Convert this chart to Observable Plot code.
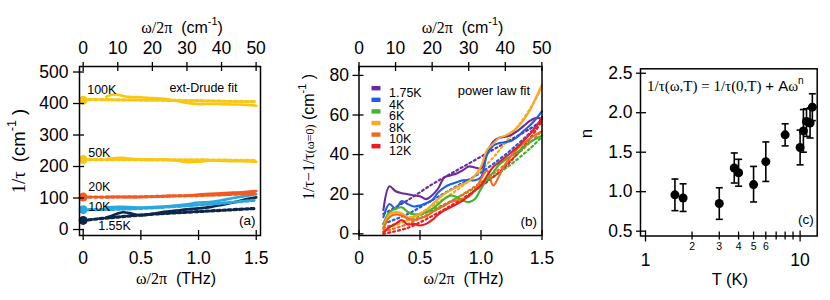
<!DOCTYPE html>
<html><head><meta charset="utf-8">
<script src="https://cdn.jsdelivr.net/npm/d3@7"></script>
<script src="https://cdn.jsdelivr.net/npm/@observablehq/plot@0.6"></script>
<style>
body{margin:0;background:#fff;}
#wrap{position:relative;width:830px;height:300px;overflow:hidden;background:#fff;}
#wrap svg{position:absolute;top:0;}
</style></head><body><div id="wrap"></div>
<script>
// ---------- shared ----------
const CM_PER_THZ = 33.356;
const cmTicks = [0, 10, 20, 30, 40, 50];
const thzTicks = [0, 0.5, 1.0, 1.5];

// ---------- panel (a): ext-Drude ----------
const aTemps = ["100K", "50K", "20K", "10K", "1.55K"];
const aColors = ["#f9c710", "#f9c710", "#f15a22", "#2ca8e0", "#0c2749"];
const aDotValues = [410, 222, 103, 63, 29];          // 1/tau at omega = 0
const aFreq = [0.2, 0.25, 0.3, 0.35, 0.4, 0.5, 0.6, 0.7, 0.8, 0.9, 1.0, 1.1, 1.2, 1.3, 1.4, 1.5];
const a100K = [422, 428, 428, 424, 421, 420, 417, 415, 409, 402, 398, 399, 398, 397, 396, 393];
const a50K  = [224, 226, 227, 228, 225, 222, 221, 222, 219, 214, 215, 219, 218, 217, 217, 215];
const a20K  = [103, 104, 104, 103, 103, 103, 104, 106, 107, 108, 111, 113, 115, 117, 119, 122];
const a10K  = [71, 71, 72, 72, 71, 70, 71, 73, 76, 80, 86, 87, 93, 100, 106, 112];
const a1p55K = [38, 44, 51, 55, 52, 45, 50, 56, 60, 64, 67, 71, 78, 86, 95, 102];
const aFitFreq = [0, 0.25, 0.5, 0.75, 1.0, 1.25, 1.5];
const aFit100K = [413, 412, 411, 410, 409, 407, 406];
const aFit50K  = [222, 222, 222, 221, 221, 220, 219];
const aFit20K  = [103, 103, 104, 106, 108, 111, 115];
const aFit10K  = [63, 64, 67, 72, 78, 85, 93];
const aFit1p55K = [29, 38, 46, 52, 57, 62, 67];
const aYTicks = [0, 100, 200, 300, 400, 500];

// ---------- panel (b): power law ----------
const bTemps = ["1.75K", "4K", "6K", "8K", "10K", "12K"];
const bColors = ["#6a2c9c", "#1e5ee6", "#3fb52a", "#f9a825", "#f26a1f", "#ec1c24"];
const bFreq = [0.2, 0.25, 0.3, 0.35, 0.4, 0.45, 0.5, 0.55, 0.6, 0.65, 0.7, 0.75, 0.8, 0.85, 0.9, 0.95, 1.0, 1.05, 1.1, 1.15, 1.2, 1.25, 1.3, 1.35, 1.4, 1.45, 1.5];
const b1p75K = [12, 24, 21.5, 20.5, 20, 19.3, 19, 17.5, 19.5, 23, 28.5, 29.5, 30.5, 32, 34, 33.5, 33, 41, 46.5, 48.5, 49, 50, 52, 54.5, 57, 58.5, 58];
const b4K  = [8.4, 15, 12.6, 16.5, 15, 13.8, 14.3, 15.5, 17, 21, 23.5, 25, 26, 27, 27.2, 27, 28.6, 40, 44.5, 45.8, 46.3, 47, 49, 52, 54.7, 58, 62];
const b6K  = [5, 11, 12.6, 13.4, 11, 9.8, 10, 11, 12.6, 15, 17.6, 19.3, 18.5, 16.8, 16, 17.6, 22.7, 27.7, 31, 35, 37.4, 39.5, 41.2, 44, 46.3, 48, 49.6];
const b8K  = [3.4, 9.8, 11, 10.4, 8.4, 8.7, 10, 12, 14.8, 17.6, 20.2, 21.9, 23.5, 25, 26.6, 29.4, 34, 42.4, 45.5, 48.5, 49.6, 51.3, 53.9, 57.6, 62.3, 68.7, 75.4];
const b10K = [2.5, 8.4, 9.8, 9.2, 7.6, 7, 8, 8.7, 11, 12.6, 14.3, 16, 16.8, 17.6, 18.9, 21.9, 27.7, 31.9, 24.4, 29.4, 35.3, 39.5, 42.9, 45.8, 48, 50.2, 51.8];
const b12K = [0.8, 3.4, 5, 7, 4.7, 5, 4.2, 5, 7, 9.8, 11.8, 13.4, 15, 16.8, 19.3, 21.9, 24.4, 29.4, 33.7, 36.2, 38.7, 41.2, 43.8, 47.1, 50.2, 53.9, 59];
const bFitFreq = [0.2, 0.4, 0.6, 0.8, 1.0, 1.2, 1.4, 1.5];
const bFit1p75K = [10, 17, 25, 32, 39, 46, 53, 57];
const bFit4K  = [5, 10, 17, 24, 31, 40, 51, 58];
const bFit6K  = [3, 7, 12, 18, 25, 33, 43, 49];
const bFit8K  = [2, 7, 14, 22, 32, 46, 63, 74];
const bFit10K = [1, 5, 11, 18, 26, 35, 46, 52];
const bFit12K = [0, 3, 9, 16, 24, 34, 48, 57];
const bYTicks = [0, 20, 40, 60, 80];

// ---------- panel (c): exponent n ----------
const cTemp = [1.55, 1.75, 3.0, 3.75, 4.0, 5.0, 6.0, 8.0, 10.0, 10.5, 11.0, 11.6, 12.0];
const cN    = [0.96, 0.92, 0.85, 1.30, 1.24, 1.09, 1.38, 1.72, 1.56, 1.77, 1.89, 1.87, 2.07];
const cLow  = [0.76, 0.75, 0.65, 1.11, 1.07, 0.87, 1.13, 1.58, 1.34, 1.50, 1.70, 1.68, 1.90];
const cHigh = [1.16, 1.10, 1.05, 1.49, 1.41, 1.32, 1.63, 1.86, 1.78, 2.04, 2.05, 2.06, 2.24];
const cYTicks = [0.5, 1.0, 1.5, 2.0, 2.5];
const cMajorTicks = [1, 10];
const cMinorTicks = [2, 3, 4, 5, 6, 7, 8, 9];

// ---------- helpers ----------
const SANS = "'Liberation Sans', Arial, sans-serif";
const SERIF = "'Liberation Serif', 'Times New Roman', serif";
const NS = "http://www.w3.org/2000/svg";
const H = 300;
const TICK_FS = 17.5;
const fmtTHz = d => d === 0 ? "0" : d.toFixed(1);
const cmAsTHz = cmTicks.map(c => c / CM_PER_THZ);
function rows(keys, xs, series) {
  return keys.flatMap((k, i) => xs.map((x, j) => ({x, y: series[i][j], k})));
}
const RICH = {
  "ω/2π (cm-1)": [{t:"ω/2π", f:SERIF}, {t:"  (cm", f:SANS}, {t:"-1", f:SANS, sup:true}, {t:")", f:SANS}],
  "ω/2π (THz)": [{t:"ω/2π", f:SERIF}, {t:"  (THz)", f:SANS}],
  "1/τ (cm-1)": [{t:"1/τ  ", f:SERIF}, {t:"(cm", f:SANS}, {t:"-1", f:SANS, sup:true}, {t:" )", f:SANS}],
  "1/τ−1/τ(ω=0) (cm-1)": [{t:"1/τ−1/τ", f:SERIF}, {t:"(ω=0)", f:SERIF, scale:0.75}, {t:" (cm", f:SANS}, {t:"-1", f:SANS, sup:true}, {t:" )", f:SANS}],
  "1/τ(ω,T) = 1/τ(0,T) + Aωn": [{t:"1/τ(ω,T) = 1/τ(0,T) ", f:SERIF}, {t:"+ A", f:SANS}, {t:"ω", f:SERIF}, {t:"n", f:SANS, sup:true}]
};
function enrich(svg) {
  svg.querySelectorAll("text").forEach(node => {
    const segs = RICH[node.textContent];
    if (!segs) return;
    const cs = getComputedStyle(node);
    const base = parseFloat(cs.fontSize) || 16;
    const anchor = cs.textAnchor;
    node.textContent = "";
    node.style.whiteSpace = "pre";
    let lift = 0;
    for (const s of segs) {
      const ts = document.createElementNS(NS, "tspan");
      ts.textContent = s.t;
      ts.setAttribute("font-family", s.f);
      ts.setAttribute("font-size", base * (s.sup ? 0.68 : (s.scale || 1)));
      const target = s.sup ? -0.5 * base : 0;
      if (target !== lift) { ts.setAttribute("dy", target - lift); lift = target; }
      node.append(ts);
    }
    // anchor the mixed-font text explicitly
    node.setAttribute("text-anchor", "start");
    node.style.textAnchor = "start";
    const w = node.getComputedTextLength();
    if (anchor === "middle") node.setAttribute("x", -w / 2);
    else if (anchor === "end") node.setAttribute("x", -w);
  });
}
function place(svg, left) {
  svg.style.left = left + "px";
  document.getElementById("wrap").append(svg);
  enrich(svg);
}
const baseStyle = {fontFamily: SANS, fontSize: "16px", color: "black", background: "none", overflow: "visible"};
const tk = {stroke: "black", strokeWidth: 1.3};

// ---------- panel (a) ----------
{
  const W = 275, mL = 79, mR = 15, mT = 66, mB = 65;
  const iW = W - mL - mR, iH = H - mT - mB;
  const solid = rows(aTemps, aFreq, [a100K, a50K, a20K, a10K, a1p55K]);
  const fits = rows(aTemps, aFitFreq, [aFit100K, aFit50K, aFit20K, aFit10K, aFit1p55K]);
  const dots = aTemps.map((k, i) => ({x: 0, y: aDotValues[i], k}));
  const labDx = [4, 5, 5, 5, 15], labDy = [-10, -7, -10, -3, 6];
  const svg = Plot.plot({
    width: W, height: H, marginLeft: mL, marginRight: mR, marginTop: mT, marginBottom: mB,
    x: {domain: [-0.032, 1.537], axis: null},
    y: {domain: [-19, 517.5], axis: null},
    color: {domain: aTemps, range: aColors},
    style: baseStyle,
    marks: [
      Plot.line(solid, {x: "x", y: "y", z: "k", stroke: "k", strokeWidth: 2.6, curve: "catmull-rom"}),
      Plot.line(fits, {x: "x", y: "y", z: "k", stroke: "k", strokeWidth: 3.2, strokeDasharray: "3 2.6", curve: "catmull-rom"}),
      Plot.dot(dots, {x: "x", y: "y", fill: "k", r: 4.5}),
      ...aTemps.map((k, i) => Plot.text([dots[i]], {x: "x", y: "y", text: "k", dx: labDx[i], dy: labDy[i], textAnchor: "start", fontSize: 12.5})),
      Plot.frame({stroke: "black", strokeWidth: 1.5}),
      Plot.axisX({anchor: "bottom", ticks: thzTicks, tickFormat: fmtTHz, tickSize: 5, tickPadding: 11, fontSize: TICK_FS, label: null, ...tk}),
      Plot.tickX(thzTicks, {x: d => d, insetTop: iH - 5, ...tk}),
      Plot.axisX({anchor: "top", ticks: cmAsTHz, tickFormat: d => Math.round(d * CM_PER_THZ), tickSize: 5, tickPadding: 8, fontSize: TICK_FS, label: null, ...tk}),
      Plot.tickX(cmAsTHz, {x: d => d, insetBottom: iH - 5, ...tk}),
      Plot.axisY({anchor: "left", ticks: aYTicks, tickSize: 6, tickPadding: 5, fontSize: TICK_FS, label: null, ...tk}),
      Plot.tickY(aYTicks, {y: d => d, insetRight: iW - 5, ...tk}),
      Plot.text(["ext-Drude fit"], {frameAnchor: "top-right", dx: -23, dy: 17, textAnchor: "end", fontSize: 12.5}),
      Plot.text(["(a)"], {frameAnchor: "bottom-right", dx: -5, dy: -11, textAnchor: "end", fontSize: 13.5}),
      Plot.text(["ω/2π (cm-1)"], {frameAnchor: "top", textAnchor: "middle", dx: 12, dy: -45, fontSize: 16}),
      Plot.text(["ω/2π (THz)"], {frameAnchor: "bottom", textAnchor: "middle", dx: 6, dy: 48, fontSize: 16}),
      Plot.text(["1/τ (cm-1)"], {frameAnchor: "left", textAnchor: "middle", dx: -60, dy: 0, rotate: -90, fontSize: 18.5})
    ]
  });
  place(svg, 0);
}

// ---------- panel (b) ----------
{
  const L = 275, W = 280, mL = 83.5, mR = 13.5, mT = 66, mB = 65;
  const iW = W - mL - mR, iH = H - mT - mB;
  const solid = rows(bTemps, bFreq, [b1p75K, b4K, b6K, b8K, b10K, b12K]);
  const fits = rows(bTemps, bFitFreq, [bFit1p75K, bFit4K, bFit6K, bFit8K, bFit10K, bFit12K]);
  const bar = {draw(ctx) { ctx.rect(-4.5, -2.2, 9, 4.4); }};
  const svg = Plot.plot({
    width: W, height: H, marginLeft: mL, marginRight: mR, marginTop: mT, marginBottom: mB,
    x: {domain: [0, 1.5], axis: null},
    y: {domain: [-0.86, 84.5], axis: null},
    color: {domain: bTemps, range: bColors},
    style: baseStyle,
    marks: [
      Plot.line(fits, {x: "x", y: "y", z: "k", stroke: "k", strokeWidth: 2.2, strokeDasharray: "2 3", curve: "catmull-rom"}),
      Plot.line(solid, {x: "x", y: "y", z: "k", stroke: "k", strokeWidth: 2.1, curve: "catmull-rom"}),
      ...bTemps.map((k, i) => Plot.dot([k], {frameAnchor: "top-left", dx: 17, dy: 21.7 + i * 11.6, symbol: bar, fill: d => d, stroke: null})),
      ...bTemps.map((k, i) => Plot.text([k], {frameAnchor: "top-left", dx: 30, dy: 21.7 + i * 11.6, text: d => d, textAnchor: "start", fontSize: 12.5})),
      Plot.frame({stroke: "black", strokeWidth: 1.5}),
      Plot.axisX({anchor: "bottom", ticks: thzTicks, tickFormat: fmtTHz, tickSize: 5, tickPadding: 11, fontSize: TICK_FS, label: null, ...tk}),
      Plot.tickX(thzTicks, {x: d => d, insetTop: iH - 5, ...tk}),
      Plot.axisX({anchor: "top", ticks: cmAsTHz, tickFormat: d => Math.round(d * CM_PER_THZ), tickSize: 5, tickPadding: 8, fontSize: TICK_FS, label: null, ...tk}),
      Plot.tickX(cmAsTHz, {x: d => d, insetBottom: iH - 5, ...tk}),
      Plot.axisY({anchor: "left", ticks: bYTicks, tickSize: 6, tickPadding: 4, fontSize: TICK_FS, label: null, ...tk}),
      Plot.tickY(bYTicks, {y: d => d, insetRight: iW - 5, ...tk}),
      Plot.text(["power law fit"], {frameAnchor: "top-right", dx: -12, dy: 19, textAnchor: "end", fontSize: 13}),
      Plot.text(["(b)"], {frameAnchor: "bottom-right", dx: -5, dy: -10, textAnchor: "end", fontSize: 13.5}),
      Plot.text(["ω/2π (cm-1)"], {frameAnchor: "top", textAnchor: "middle", dx: 12, dy: -45, fontSize: 16}),
      Plot.text(["ω/2π (THz)"], {frameAnchor: "bottom", textAnchor: "middle", dx: 13, dy: 48, fontSize: 16}),
      Plot.text(["1/τ−1/τ(ω=0) (cm-1)"], {frameAnchor: "left", textAnchor: "middle", dx: -50, dy: -14, rotate: -90, fontSize: 16})
    ]
  });
  place(svg, L);
}

// ---------- panel (c) ----------
{
  const L = 555, W = 275, mL = 85, mR = 13.3, mT = 68.3, mB = 64.5;
  const iW = W - mL - mR, iH = H - mT - mB;
  const pts = cTemp.map((T, i) => ({T, n: cN[i], lo: cLow[i], hi: cHigh[i]}));
  const cap = {draw(ctx) { ctx.moveTo(-3.5, 0); ctx.lineTo(3.5, 0); }};
  const svg = Plot.plot({
    width: W, height: H, marginLeft: mL, marginRight: mR, marginTop: mT, marginBottom: mB,
    x: {type: "log", domain: [0.928, 12.9], axis: null},
    y: {domain: [0.439, 2.556], axis: null},
    style: baseStyle,
    marks: [
      Plot.ruleX(pts, {x: "T", y1: "lo", y2: "hi", stroke: "black", strokeWidth: 1.6}),
      Plot.dot(pts, {x: "T", y: "lo", symbol: cap, stroke: "black", strokeWidth: 1.6}),
      Plot.dot(pts, {x: "T", y: "hi", symbol: cap, stroke: "black", strokeWidth: 1.6}),
      Plot.dot(pts, {x: "T", y: "n", r: 4.5, fill: "black"}),
      Plot.frame({stroke: "black", strokeWidth: 1.5}),
      Plot.axisX({anchor: "bottom", ticks: cMajorTicks, tickFormat: d => String(d), tickSize: 6, tickPadding: 12, fontSize: TICK_FS, label: null, ...tk}),
      Plot.tickX(cMajorTicks, {x: d => d, insetTop: iH - 5, ...tk}),
      Plot.axisX({anchor: "bottom", ticks: cMinorTicks, tickFormat: d => d <= 6 ? String(d) : "", tickSize: 4, tickPadding: 3, fontSize: 10.5, label: null, ...tk}),
      Plot.tickX(cMinorTicks, {x: d => d, insetTop: iH - 4, ...tk}),
      Plot.axisY({anchor: "left", ticks: cYTicks, tickFormat: d => d.toFixed(1), tickSize: 4, tickPadding: 4, fontSize: TICK_FS, label: null, ...tk}),
      Plot.tickY(cYTicks, {y: d => d, insetRight: iW - 6, ...tk}),
      Plot.text(["1/τ(ω,T) = 1/τ(0,T) + Aωn"], {frameAnchor: "top-left", dx: 6.5, dy: 12, textAnchor: "start", fontSize: 15}),
      Plot.text(["(c)"], {frameAnchor: "bottom-right", dx: -3.5, dy: -12, textAnchor: "end", fontSize: 13.5}),
      Plot.text(["n"], {frameAnchor: "left", textAnchor: "middle", dx: -54, dy: -19, rotate: -90, fontSize: 17}),
      Plot.text(["T (K)"], {frameAnchor: "bottom", textAnchor: "middle", dx: 1, dy: 49, fontSize: 16.5})
    ]
  });
  place(svg, L);
}
</script>
</body></html>
